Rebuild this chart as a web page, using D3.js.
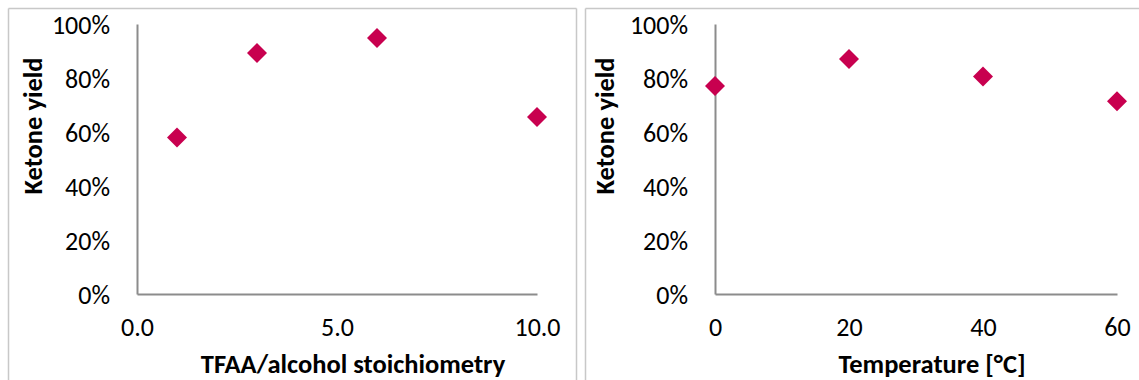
<!DOCTYPE html>
<html>
<head>
<meta charset="utf-8">
<script src="https://cdn.jsdelivr.net/npm/d3@7"></script>
<style>
  html, body { margin: 0; padding: 0; background: #ffffff; }
  svg { display: block; }
  text { font-family: Carlito, Calibri, Lato, "Open Sans", sans-serif; fill: #000; }
</style>
</head>
<body>
<svg id="chart" width="1139" height="380"></svg>
<script>
// Ketone yield vs. TFAA/alcohol stoichiometry
const stoichRatio = [1, 3, 6, 10];
const stoichYield = [0.58, 0.893, 0.948, 0.656];
const stoichTicks = [0, 5, 10];

// Ketone yield vs. reaction temperature
const temperature = [0, 20, 40, 60];
const tempYield = [0.77, 0.87, 0.806, 0.714];
const tempTicks = [0, 20, 40, 60];

const yieldTicks = [0, 0.2, 0.4, 0.6, 0.8, 1.0];
const yTitle = "Ketone yield";
const xTitles = ["TFAA/alcohol stoichiometry", "Temperature [°C]"];

const svg = d3.select("#chart");
const markerColor = "#c8004f";
const axisColor = "#8c8c8c";
const frameColor = "#c8c8c8";
const tickFont = 26;
const titleFont = 26.5;

const panels = [
  {
    xs: stoichRatio, ys: stoichYield, xDomain: [0, 10], xTicks: stoichTicks,
    xFmt: d3.format(".1f"), title: xTitles[0],
    frame: { left: 8.5, right: 576.5 },
    plot: { left: 137, right: 537 },
    yTitleX: 42, xTitleX: 353
  },
  {
    xs: temperature, ys: tempYield, xDomain: [0, 60], xTicks: tempTicks,
    xFmt: d3.format("d"), title: xTitles[1],
    frame: { left: 585.5, right: null },
    plot: { left: 715, right: 1117 },
    yTitleX: 614, xTitleX: 932
  }
];

const plotTop = 24, plotBottom = 294;

panels.forEach(p => {
  const g = svg.append("g");

  // chart-area frame
  const fr = g.append("g").attr("stroke", frameColor).attr("stroke-width", 1.5).attr("fill", "none");
  fr.append("line").attr("x1", p.frame.left).attr("x2", p.frame.left).attr("y1", 8.5).attr("y2", 380);
  fr.append("line").attr("x1", p.frame.left).attr("x2", p.frame.right === null ? 1139 : p.frame.right)
    .attr("y1", 8.5).attr("y2", 8.5);
  if (p.frame.right !== null) {
    fr.append("line").attr("x1", p.frame.right).attr("x2", p.frame.right).attr("y1", 8.5).attr("y2", 380);
  }

  const x = d3.scaleLinear().domain(p.xDomain).range([p.plot.left, p.plot.right]);
  const y = d3.scaleLinear().domain([0, 1]).range([plotBottom, plotTop]);

  // y axis
  const yAxis = g.append("g").attr("transform", `translate(${p.plot.left},0)`)
    .call(d3.axisLeft(y).tickValues(yieldTicks).tickFormat(d3.format(".0%")).tickSize(0).tickPadding(27));
  yAxis.select(".domain").attr("stroke", axisColor).attr("stroke-width", 2);
  yAxis.selectAll("text").attr("font-size", tickFont).attr("dy", "0.36em")
    .style("font-family", "Carlito, Calibri, Lato, sans-serif");

  // x axis
  const xAxis = g.append("g").attr("transform", `translate(0,${plotBottom})`)
    .call(d3.axisBottom(x).tickValues(p.xTicks).tickFormat(p.xFmt).tickSize(0).tickPadding(24));
  xAxis.select(".domain").attr("stroke", axisColor).attr("stroke-width", 2);
  xAxis.selectAll("text").attr("font-size", tickFont)
    .style("font-family", "Carlito, Calibri, Lato, sans-serif");

  // axis titles
  g.append("text")
    .attr("transform", `translate(${p.yTitleX},126) rotate(-90)`)
    .attr("text-anchor", "middle")
    .attr("font-size", titleFont).attr("font-weight", "bold")
    .text(yTitle);
  g.append("text")
    .attr("x", p.xTitleX).attr("y", 373)
    .attr("text-anchor", "middle")
    .attr("font-size", titleFont).attr("font-weight", "bold")
    .text(p.title);

  // diamond markers
  const diamond = d3.symbol().type(d3.symbolSquare).size(200);
  g.append("g").selectAll("path")
    .data(p.xs.map((v, i) => [v, p.ys[i]]))
    .join("path")
    .attr("d", diamond)
    .attr("transform", d => `translate(${x(d[0])},${y(d[1])}) rotate(45)`)
    .attr("fill", markerColor);
});
</script>
</body>
</html>
